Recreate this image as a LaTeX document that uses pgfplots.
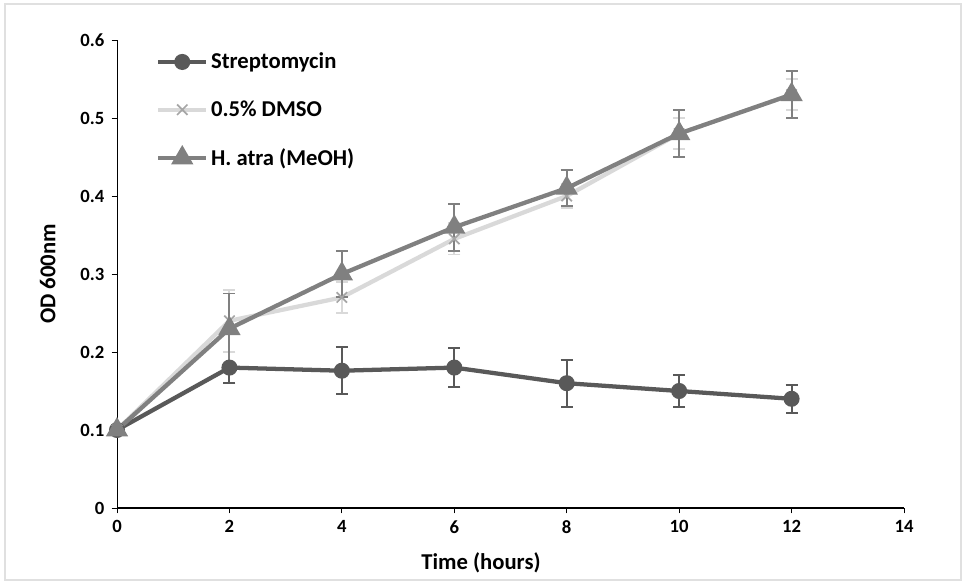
\documentclass[border=0pt]{standalone}
\usepackage{pgfplots}
\pgfplotsset{compat=1.18}
\usepackage{fontspec}
\setmainfont{Carlito}
\definecolor{strep}{HTML}{595959}
\definecolor{dmso}{HTML}{D9D9D9}
\definecolor{dmsomark}{HTML}{A6A6A6}
\definecolor{hatra}{HTML}{808080}
\begin{document}
\begin{tikzpicture}
\useasboundingbox (0pt,0pt) rectangle (724.5pt,438pt);
\draw[black!12, line width=0.8pt] (3.75pt,3pt) rectangle (720.75pt,435pt);
\begin{axis}[
  at={(87.75pt,57pt)}, anchor=south west,
  scale only axis, width=590.25pt, height=351pt,
  xmin=0, xmax=14, ymin=0, ymax=0.6,
  xtick={0,2,4,6,8,10,12,14},
  ytick={0,0.1,0.2,0.3,0.4,0.5,0.6},
  axis x line*=bottom, axis y line*=left,
  x axis line style={-, line width=1.6pt},
  y axis line style={-, line width=0.7pt},
  tick align=outside, major tick length=4pt,
  every tick/.style={black, line width=0.7pt},
  /pgf/number format/assume math mode=true,
  ticklabel style={font=\bfseries\fontsize{14}{16}\selectfont},
  xticklabel style={yshift=-2pt},
  yticklabel style={xshift=-2pt},
  xlabel={Time (hours)}, ylabel={OD 600nm},
  label style={font=\bfseries\fontsize{17}{20}\selectfont},
  xlabel style={at={(axis description cs:0.4625,-0.1175)}, anchor=center},
  ylabel style={at={(axis description cs:-0.088,0.5)}, anchor=center, rotate=0},
  clip=false,
  legend style={at={(axis cs:0.62,0.5905)}, anchor=north west, draw=none, fill=none,
    font=\bfseries\fontsize{17}{20}\selectfont, row sep=18.5pt,
    /tikz/every even column/.append style={column sep=2pt}},
  legend cell align=left,
  legend image code/.code={\draw[mark repeat=2,mark phase=2,#1] plot coordinates {(0pt,0pt) (18pt,0pt) (36pt,0pt)};},
  error bars/error bar style={line width=1.4pt},
  error bars/error mark options={rotate=90, mark size=4.5pt, line width=1.4pt},
]
\addplot[strep, line width=3.2pt, mark=*, mark size=4.4pt, mark options={solid},
  error bars/.cd, y dir=both, y explicit]
  coordinates {(0,0.1) +- (0,0) (2,0.18) +- (0,0.02) (4,0.176) +- (0,0.03) (6,0.18) +- (0,0.025) (8,0.16) +- (0,0.03) (10,0.15) +- (0,0.02) (12,0.14) +- (0,0.018)};
\addlegendentry{Streptomycin}
\addplot[dmso, line width=3.2pt, mark=x, mark size=5.5pt, mark options={dmsomark, line width=1.3pt},
  error bars/.cd, y dir=both, y explicit]
  coordinates {(0,0.1) +- (0,0) (2,0.24) +- (0,0.04) (4,0.27) +- (0,0.02) (6,0.345) +- (0,0.02) (8,0.40) +- (0,0.015) (10,0.48) +- (0,0.02) (12,0.53) +- (0,0.02)};
\addlegendentry{0.5\% DMSO}
\addplot[hatra, line width=3.2pt, mark=triangle*, mark size=6.5pt, mark options={solid},
  error bars/.cd, y dir=both, y explicit]
  coordinates {(0,0.1) +- (0,0) (2,0.23) +- (0,0.045) (4,0.30) +- (0,0.03) (6,0.36) +- (0,0.03) (8,0.41) +- (0,0.023) (10,0.48) +- (0,0.03) (12,0.53) +- (0,0.03)};
\addlegendentry{H. atra (MeOH)}
\end{axis}
\end{tikzpicture}
\end{document}
